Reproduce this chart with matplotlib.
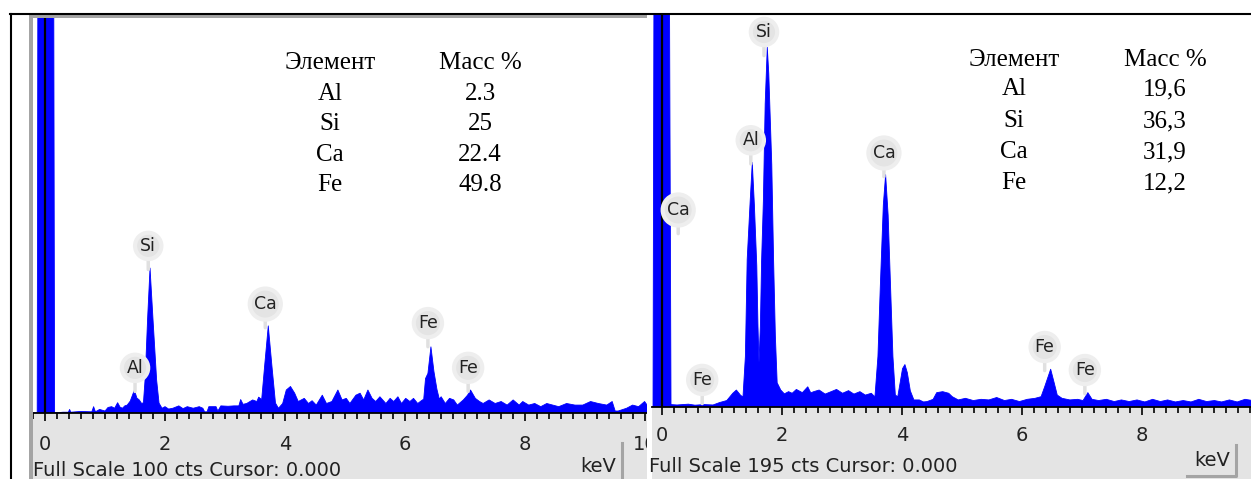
import matplotlib
matplotlib.use('Agg')
import matplotlib.pyplot as plt
from matplotlib.patches import Rectangle
from matplotlib.lines import Line2D
from matplotlib.ticker import MultipleLocator

W, H = 1251, 479

# spectrum 1 - Full Scale 100 cts (energy keV / counts)
left_kev = [-0.20, -0.13, -0.10, 0.12, 0.16, 0.30, 0.39, 0.41, 0.43, 0.60, 0.78, 0.81,
            0.84, 0.91, 1.00, 1.05, 1.11, 1.16, 1.21, 1.25, 1.29, 1.33, 1.37, 1.42,
            1.45, 1.49, 1.53, 1.57, 1.61, 1.64, 1.67, 1.71, 1.75, 1.80, 1.86, 1.90,
            1.95, 2.00, 2.06, 2.13, 2.23, 2.30, 2.37, 2.47, 2.57, 2.63, 2.66, 2.70,
            2.73, 2.85, 2.88, 2.93, 3.05, 3.15, 3.23, 3.26, 3.30, 3.36, 3.46, 3.53,
            3.56, 3.61, 3.66, 3.72, 3.78, 3.84, 3.89, 3.96, 4.02, 4.09, 4.16, 4.22,
            4.32, 4.39, 4.45, 4.52, 4.62, 4.69, 4.78, 4.88, 4.95, 5.02, 5.08, 5.18,
            5.25, 5.31, 5.38, 5.45, 5.51, 5.58, 5.68, 5.75, 5.81, 5.88, 5.94, 6.01,
            6.08, 6.14, 6.21, 6.27, 6.31, 6.34, 6.38, 6.43, 6.48, 6.53, 6.57, 6.60,
            6.67, 6.74, 6.81, 6.87, 6.97, 7.04, 7.09, 7.17, 7.24, 7.30, 7.40, 7.50,
            7.60, 7.70, 7.80, 7.90, 7.96, 8.06, 8.16, 8.26, 8.36, 8.46, 8.56, 8.69,
            8.83, 8.96, 9.09, 9.22, 9.36, 9.45, 9.50, 9.55, 9.69, 9.79, 9.89, 9.99, 10.05]
left_cts = [0, 0, 300, 300, 0, 0.2, 0.2, 0.9, 0.2, 0.4, 0.3, 1.6,
            0.3, 0.9, 0.5, 1.4, 1.6, 1.2, 2.6, 1.5, 1.2, 1.8, 2.0, 3.0,
            4.2, 5.8, 3.8, 3.3, 2.4, 2.6, 9.0, 24, 36.6, 23.5, 8.3, 2.5,
            1.2, 1.6, 1.0, 1.2, 1.8, 1.1, 1.6, 1.2, 1.6, 1.2, 0.3, 0.3,
            1.6, 1.6, 0.5, 1.8, 1.7, 1.8, 1.8, 3.4, 2.2, 2.4, 3.3, 2.9,
            4.0, 3.4, 12, 22, 12, 2.5, 1.2, 2.4, 5.8, 6.7, 5.0, 2.9,
            3.7, 2.4, 3.1, 2.0, 4.5, 2.4, 2.9, 5.8, 3.3, 3.7, 2.4, 4.5,
            5.0, 3.3, 5.8, 3.7, 2.9, 4.1, 2.4, 3.7, 2.9, 4.1, 2.4, 3.7,
            2.9, 3.7, 2.4, 3.1, 3.5, 8.7, 10.0, 16.7, 10.5, 6.0, 3.5, 4.1,
            2.4, 3.7, 3.3, 2.0, 3.3, 4.5, 5.8, 3.7, 2.9, 2.4, 3.3, 2.4,
            2.9, 2.0, 3.3, 2.0, 2.9, 2.0, 2.4, 1.6, 2.4, 2.0, 1.6, 2.4,
            2.0, 2.0, 2.9, 2.4, 2.0, 2.9, 0.5, 0.5, 1.2, 2.0, 1.6, 2.9, 1.6]

# spectrum 2 - Full Scale 195 cts
right_kev = [-0.17, -0.15, -0.12, 0.10, 0.15, 0.25, 0.44, 0.55, 0.70, 0.85, 0.96, 1.08,
             1.18, 1.24, 1.31, 1.35, 1.39, 1.42, 1.47, 1.505, 1.54, 1.58, 1.60, 1.617,
             1.64, 1.66, 1.69, 1.72, 1.755, 1.78, 1.83, 1.86, 1.89, 1.92, 1.98, 2.04,
             2.11, 2.17, 2.24, 2.34, 2.43, 2.48, 2.53, 2.62, 2.72, 2.82, 2.91, 3.01,
             3.11, 3.20, 3.30, 3.39, 3.49, 3.55, 3.60, 3.64, 3.69, 3.728, 3.77, 3.81,
             3.85, 3.89, 3.93, 3.97, 4.01, 4.05, 4.09, 4.14, 4.20, 4.29, 4.36, 4.42,
             4.52, 4.58, 4.68, 4.78, 4.84, 4.94, 5.06, 5.19, 5.32, 5.45, 5.58, 5.71,
             5.83, 5.96, 6.09, 6.22, 6.32, 6.38, 6.48, 6.54, 6.59, 6.67, 6.80, 6.93,
             7.02, 7.10, 7.17, 7.28, 7.41, 7.54, 7.66, 7.79, 7.92, 8.05, 8.18, 8.31,
             8.43, 8.56, 8.69, 8.82, 8.95, 9.08, 9.21, 9.33, 9.46, 9.59, 9.72, 9.85]
right_cts = [0, 0, 400, 400, 1.2, 1.0, 1.4, 0.9, 1.2, 1.0, 2.2, 3.2,
             6.8, 8.4, 5.8, 5.0, 25, 73, 102, 121, 100, 70, 40, 22,
             40, 72, 102, 150, 178, 165, 120, 73, 35, 12, 8.4, 6.5,
             7.6, 6.8, 8.7, 7.1, 10.0, 7.0, 7.6, 8.4, 6.4, 7.6, 8.7, 6.8,
             8.1, 6.4, 7.6, 5.9, 6.8, 5.0, 25, 60, 100, 115, 95, 60,
             25, 6.0, 5.0, 12, 19, 21, 17, 8, 3.5, 3.5, 2.5, 2.7,
             3.8, 7.1, 7.6, 6.8, 5.1, 3.5, 4.3, 3.2, 3.8, 3.5, 4.7, 3.2,
             3.8, 2.7, 3.8, 4.3, 5.1, 10.0, 18.7, 11.8, 5.9, 4.3, 3.5, 3.8,
             3.2, 7.1, 3.8, 3.2, 3.8, 2.7, 3.5, 2.7, 3.5, 2.5, 3.8, 2.7,
             3.5, 2.5, 3.2, 2.5, 3.8, 2.7, 3.2, 2.5, 3.5, 2.5, 3.8, 3.2]

# peak markers (element, keV, counts at circle centre)
left_labels = ['Si', 'Al', 'Ca', 'Fe', 'Fe']
left_label_kev = [1.72, 1.50, 3.67, 6.38, 7.05]
left_label_cts = [42.2, 11.4, 27.5, 22.7, 11.4]
right_labels = ['Si', 'Al', 'Ca', 'Ca', 'Fe', 'Fe', 'Fe']
right_label_kev = [1.70, 1.48, 3.70, 0.27, 0.67, 6.38, 7.05]
right_label_cts = [185.6, 132.0, 125.7, 97.5, 13.4, 29.7, 18.3]

# composition tables
table_elements = ['Al', 'Si', 'Ca', 'Fe']
left_mass = ['2.3', '25', '22.4', '49.8']
right_mass = ['19,6', '36,3', '31,9', '12,2']

BLUE = '#0000ff'
STRIP = '#e4e4e4'
FRAME = '#a4a4a4'

fig = plt.figure(figsize=(W / 100, H / 100), dpi=100)


def box(x0, y0, x1, y1):
    # pixel box (top-left origin) -> figure fraction rect
    return [x0 / W, 1 - y1 / H, (x1 - x0) / W, (y1 - y0) / H]


def blank_axes(rect, color, z):
    ax = fig.add_axes(rect, zorder=z)
    ax.set_xticks([])
    ax.set_yticks([])
    for s in ax.spines.values():
        s.set_visible(False)
    ax.set_facecolor(color)
    return ax


def spectrum(rect, kev, cts, xlim, ylim, labels, lab_kev, lab_cts, z, pad):
    ax = fig.add_axes(rect, zorder=z)
    ax.fill_between(kev, cts, 0, color=BLUE, lw=0.6, edgecolor=BLUE)
    ax.axvline(0, color='black', lw=1.6)
    ax.set_xlim(*xlim)
    ax.set_ylim(*ylim)
    for s in ['left', 'right', 'top']:
        ax.spines[s].set_visible(False)
    ax.spines['bottom'].set_linewidth(1.3)
    ax.set_yticks([])
    ax.xaxis.set_major_locator(MultipleLocator(2))
    ax.xaxis.set_minor_locator(MultipleLocator(0.2))
    ax.tick_params(axis='x', which='major', direction='out', length=6, width=1.2,
                   pad=pad, labelsize=14, labelcolor='#222222')
    ax.tick_params(axis='x', which='minor', direction='out', length=4, width=1.2)
    for name, x, y in zip(labels, lab_kev, lab_cts):
        ax.annotate('', xy=(x, y), xytext=(0, -17), textcoords='offset points',
                    arrowprops=dict(arrowstyle='-', lw=2.5, color='#e0e0e0',
                                    shrinkA=0, shrinkB=0))
        ax.text(x, y, name, ha='center', va='center', fontsize=12.5, color='#222222',
                bbox=dict(boxstyle='circle,pad=0.24', fc='#e4e4e4', ec='#eeeeee', lw=3))
    return ax


# left panel
blank_axes(box(33, 413, 647, 479), STRIP, 0)
spectrum(box(33, 17, 647, 413), left_kev, left_cts, (-0.2, 10.03), (0, 100),
         left_labels, left_label_kev, left_label_cts, 1, 9.5)

# right panel (its strip hides the overflowing "10" of the left axis)
rs = blank_axes(box(647, 407, 1251, 479), 'white', 2)
rs.add_patch(Rectangle((5 / 604, 0), 1, 1, transform=rs.transAxes, fc=STRIP, ec='none'))
spectrum(box(652, 14, 1251, 407), right_kev, right_cts, (-0.167, 9.82), (0, 194.5),
         right_labels, right_label_kev, right_label_cts, 3, 8)

# grey window frame of the left screenshot
fig.add_artist(Rectangle((29 / W, 0), 4 / W, 1 - 14 / H, transform=fig.transFigure,
                         fc=FRAME, ec='none', zorder=4))
fig.add_artist(Rectangle((29 / W, 1 - 18 / H), 618 / W, 4 / H, transform=fig.transFigure,
                         fc=FRAME, ec='none', zorder=4))

# keV separators / button
fig.add_artist(Line2D([622 / W, 622 / W], [0, 1 - 443 / H], color=FRAME, lw=2.2, zorder=5))
fig.add_artist(Line2D([1236 / W, 1236 / W, 1187 / W], [1 - 445 / H, 1 - 476 / H, 1 - 476 / H],
                      color=FRAME, lw=2.2, zorder=5))

# table border lines
fig.add_artist(Line2D([10 / W, 1], [1 - 14 / H, 1 - 14 / H], color='black', lw=1.5, zorder=6))
fig.add_artist(Line2D([10.5 / W, 10.5 / W], [0, 1 - 14 / H], color='black', lw=1.5, zorder=6))

# status bar texts
sans = dict(fontsize=14, color='#222222', zorder=7, va='center')
fig.text(33 / W, 1 - 470 / H, 'Full Scale 100 cts Cursor: 0.000', ha='left', **sans)
fig.text(598 / W, 1 - 467 / H, 'keV', ha='center', **sans)
fig.text(649 / W, 1 - 467 / H, 'Full Scale 195 cts Cursor: 0.000', ha='left', **sans)
fig.text(1212 / W, 1 - 461 / H, 'keV', ha='center', **sans)

# element / mass tables
serif = dict(family='Liberation Serif', fontsize=18, color='black', ha='center',
             va='center', zorder=7)


def table(xe, xm, ys, mass):
    fig.text(xe / W, 1 - ys[0] / H, 'Элемент', **serif)
    fig.text(xm / W, 1 - ys[0] / H, 'Масс %', **serif)
    for el, m, y in zip(table_elements, mass, ys[1:]):
        fig.text(xe / W, 1 - y / H, el, **serif)
        fig.text(xm / W, 1 - y / H, m, **serif)


table(330, 480, [63, 94, 124, 155, 185], left_mass)
table(1014, 1165, [60, 89, 121, 152, 183], right_mass)

fig.savefig('out.png', dpi=100)
